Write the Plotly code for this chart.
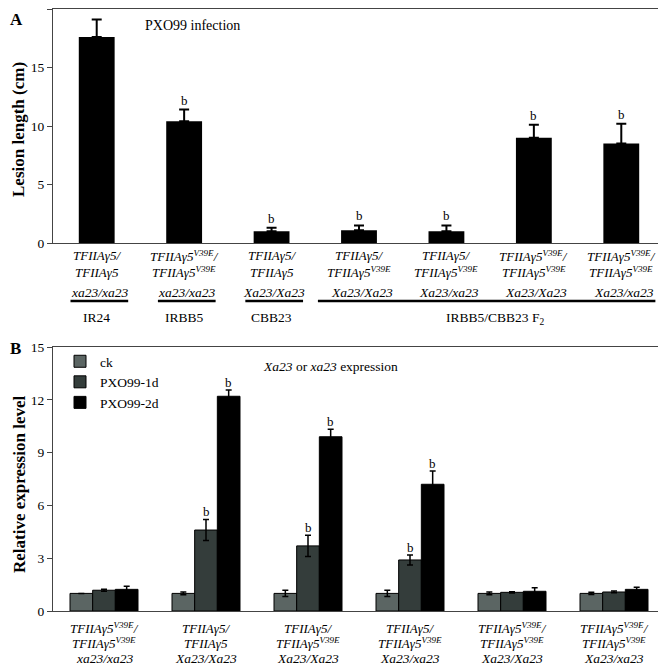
import plotly.graph_objects as go

# ---------------- data ----------------
top_geno1 = ["TFIIAγ5/", "TFIIAγ5<sup>V39E</sup>/", "TFIIAγ5/", "TFIIAγ5/", "TFIIAγ5/",
             "TFIIAγ5<sup>V39E</sup>/", "TFIIAγ5<sup>V39E</sup>/"]
top_geno2 = ["TFIIAγ5", "TFIIAγ5<sup>V39E</sup>", "TFIIAγ5", "TFIIAγ5<sup>V39E</sup>",
             "TFIIAγ5<sup>V39E</sup>", "TFIIAγ5<sup>V39E</sup>", "TFIIAγ5<sup>V39E</sup>"]
top_xa = ["xa23/xa23", "xa23/xa23", "Xa23/Xa23", "Xa23/Xa23", "Xa23/xa23", "Xa23/Xa23", "Xa23/xa23"]
top_lesion = [17.6, 10.4, 1.0, 1.1, 1.0, 9.0, 8.5]
top_err = [1.5, 1.0, 0.3, 0.4, 0.5, 1.1, 1.7]
top_sig = ["", "b", "b", "b", "b", "b", "b"]
top_names = ["IR24", "IRBB5", "CBB23"]
f2_name = "IRBB5/CBB23 F<sub>2</sub>"

bot_geno1 = ["TFIIAγ5<sup>V39E</sup>/", "TFIIAγ5/", "TFIIAγ5/", "TFIIAγ5/",
             "TFIIAγ5<sup>V39E</sup>/", "TFIIAγ5<sup>V39E</sup>/"]
bot_geno2 = ["TFIIAγ5<sup>V39E</sup>", "TFIIAγ5", "TFIIAγ5<sup>V39E</sup>", "TFIIAγ5<sup>V39E</sup>",
             "TFIIAγ5<sup>V39E</sup>", "TFIIAγ5<sup>V39E</sup>"]
bot_xa = ["xa23/xa23", "Xa23/Xa23", "Xa23/Xa23", "Xa23/xa23", "Xa23/Xa23", "Xa23/xa23"]
series_names = ["ck", "PXO99-1d", "PXO99-2d"]
ck = [1.0, 1.0, 1.0, 1.0, 1.0, 1.0]
ck_err = [0.0, 0.08, 0.18, 0.18, 0.08, 0.06]
d1 = [1.18, 4.6, 3.7, 2.9, 1.06, 1.08]
d1_err = [0.06, 0.6, 0.6, 0.28, 0.04, 0.05]
d2 = [1.23, 12.2, 9.9, 7.2, 1.12, 1.23]
d2_err = [0.18, 0.35, 0.42, 0.75, 0.2, 0.12]
d1_sig = ["", "b", "b", "b", "", ""]
d2_sig = ["", "b", "b", "b", "", ""]
series_colors = ["#5b6563", "#343d3b", "#000000"]

FONT = "Liberation Serif"
BLACK = "black"

# page has an 8px body margin: figure sized so page coords map directly
OFF = 8
W, H = 666 - OFF, 668 - OFF
ML = 53 - OFF
PW = 612


def py(Y):
    return min(1.0, max(0.0, 1 - (Y - OFF) / H))


def pxp(X):
    return (X - 53) / PW


def F(size, **kw):
    return dict(size=size, family=FONT, color=BLACK, **kw)


top_x = list(range(len(top_lesion)))
bot_x = list(range(len(ck)))

fig = go.Figure()

fig.add_trace(go.Bar(
    x=top_x, y=top_lesion, width=0.41, marker=dict(color="black", line=dict(width=0)),
    error_y=dict(type="data", symmetric=False, array=top_err, arrayminus=[0] * len(top_err),
                 color="black", thickness=2, width=5),
    xaxis="x", yaxis="y", showlegend=False))

group_w = 0.6667
bw = group_w / 3
for vals, errs, name, col in zip([ck, d1, d2], [ck_err, d1_err, d2_err],
                                 series_names, series_colors):
    fig.add_trace(go.Bar(
        x=bot_x, y=vals, name=name,
        marker=dict(color=col, line=dict(color="black", width=1)),
        error_y=dict(type="data", array=errs, color="black", thickness=1.5, width=3),
        xaxis="x2", yaxis="y2"))

annotations = []
for i, (v, e, s) in enumerate(zip(top_lesion, top_err, top_sig)):
    if s:
        annotations.append(dict(x=i, y=v + e, xref="x", yref="y", text=s, showarrow=False,
                                xanchor="center", yanchor="bottom", yshift=0, font=F(13)))
for k, (vals, errs, sig) in enumerate([(d1, d1_err, d1_sig), (d2, d2_err, d2_sig)]):
    off = k * bw
    for i, (v, e, s) in enumerate(zip(vals, errs, sig)):
        if s:
            annotations.append(dict(x=i + off, y=v + e, xref="x2", yref="y2", text=s,
                                    showarrow=False, xanchor="center", yanchor="bottom",
                                    yshift=-2, font=F(13)))


def label(xref, x, Y, text, size, yanchor="middle"):
    return dict(x=x, y=py(Y), xref=xref, yref="paper", text=text, showarrow=False,
                xanchor="center", yanchor=yanchor, font=F(size))


for i in top_x:
    annotations.append(label("x", i, 256, "<i>" + top_geno1[i] + "</i>", 13))
    annotations.append(label("x", i, 272, "<i>" + top_geno2[i] + "</i>", 13))
    annotations.append(label("x", i + 0.03, 292, "<i>" + top_xa[i] + "</i>", 13.5))
for i, nm in enumerate(top_names):
    annotations.append(label("x", i, 317, nm, 13.5))
annotations.append(label("x", 4.55, 318, f2_name, 13.5))

for i in bot_x:
    annotations.append(label("x2", i, 628, "<i>" + bot_geno1[i] + "</i>", 13))
    annotations.append(label("x2", i, 643, "<i>" + bot_geno2[i] + "</i>", 13))
    annotations.append(label("x2", i, 668, "<i>" + bot_xa[i] + "</i>", 13.5,
                             yanchor="bottom"))

annotations += [
    dict(x=pxp(192), y=py(25), xref="paper", yref="paper", text="PXO99 infection",
         showarrow=False, xanchor="center", yanchor="middle", font=F(14)),
    dict(x=pxp(330), y=py(366), xref="paper", yref="paper",
         text="<i>Xa23</i> or <i>xa23</i> expression", showarrow=False,
         xanchor="center", yanchor="middle", font=F(13.5)),
    dict(x=pxp(19), y=py(130), xref="paper", yref="paper", text="<b>Lesion length (cm)</b>",
         textangle=-90, showarrow=False, xanchor="center", yanchor="middle", font=F(17)),
    dict(x=pxp(19), y=py(485), xref="paper", yref="paper",
         text="<b>Relative expression level</b>",
         textangle=-90, showarrow=False, xanchor="center", yanchor="middle", font=F(17)),
    dict(x=pxp(8), y=py(8), xref="paper", yref="paper", text="<b>A</b>",
         showarrow=False, xanchor="left", yanchor="top", font=F(17)),
    dict(x=pxp(8), y=py(348), xref="paper", yref="paper", text="<b>B</b>",
         showarrow=False, xanchor="left", yanchor="middle", font=F(17)),
]

shapes = []
for i in range(3):
    shapes.append(dict(type="line", xref="x", yref="paper", x0=i - 0.3, x1=i + 0.36,
                       y0=py(301), y1=py(301), line=dict(color="black", width=2.5)))
shapes.append(dict(type="line", xref="x", yref="paper", x0=2.53, x1=6.39,
                   y0=py(301), y1=py(301), line=dict(color="black", width=2.5)))

axis_common = dict(showline=True, linecolor="#444", linewidth=1, mirror=True,
                   showgrid=False, zeroline=False)

fig.update_layout(
    template="none",
    width=W, height=H,
    margin=dict(l=ML, r=W - ML - PW, t=0, b=0, pad=0),
    paper_bgcolor="white", plot_bgcolor="white",
    barmode="group", bargap=0.3333, bargroupgap=0,
    font=F(13),
    xaxis=dict(domain=[0, 1], range=[-0.5, 6.5], showticklabels=False, ticks="", **axis_common),
    yaxis=dict(domain=[py(243), py(9)], range=[0, 20], tickvals=[0, 5, 10, 15, 20],
               ticks="outside", ticklen=5, tickcolor="#444", tickfont=F(13.5),
               **axis_common),
    xaxis2=dict(domain=[0, 1], range=[-0.5, 5.5], showticklabels=False, ticks="",
                anchor="y2", **axis_common),
    yaxis2=dict(domain=[py(611), py(347)], range=[0, 15], tickvals=[0, 3, 6, 9, 12, 15],
                ticks="outside", ticklen=5, tickcolor="#444", tickfont=F(13.5),
                anchor="x2", **axis_common),
    legend=dict(x=pxp(60), y=py(346), xanchor="left", yanchor="top", bgcolor="rgba(0,0,0,0)",
                font=F(13.5), itemwidth=30, tracegroupgap=0, borderwidth=0),
    annotations=annotations, shapes=shapes,
)

fig.write_html("out.html")
